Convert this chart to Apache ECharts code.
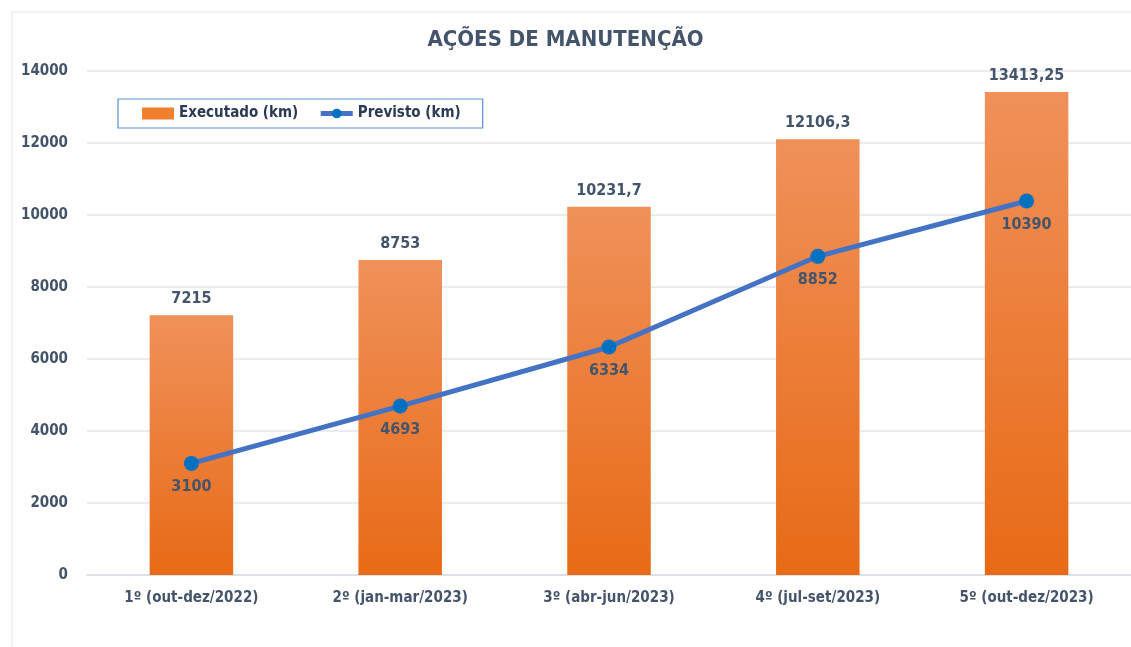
<!DOCTYPE html>
<html><head><meta charset="utf-8">
<script src="https://cdn.jsdelivr.net/npm/echarts@6/dist/echarts.min.js"></script>
<style>html,body{margin:0;padding:0;background:#fff}#c{width:1131px;height:647px}</style>
</head><body><div id="c"></div>
<script>
const categories = ['1º (out-dez/2022)','2º (jan-mar/2023)','3º (abr-jun/2023)','4º (jul-set/2023)','5º (out-dez/2023)'];
const executado = [7215, 8753, 10231.7, 12106.3, 13413.25];
const previsto = [3100, 4693, 6334, 8852, 10390];
const titleText = 'AÇÕES DE MANUTENÇÃO';
const FONT = '"Liberation Sans Narrow","DejaVu Sans Condensed","Open Sans",sans-serif';
const TXT = '#44546a';
const chart = echarts.init(document.getElementById('c'));
const fmt = v => String(v).replace('.', ',');
chart.setOption({
  animation:false,
  title:{text:titleText,left:'center',top:24,textStyle:{fontFamily:FONT,fontSize:22,fontWeight:'bold',color:TXT}},
  graphic:[{type:'rect',shape:{x:12,y:12,width:1140,height:660},style:{fill:'none',stroke:'#e2e2e2',lineWidth:1},silent:true}],
  legend:{orient:'horizontal',left:118,top:99,padding:[7,22,7,24],itemGap:20,borderColor:'#5b8fd6',borderWidth:1.2,
    itemWidth:32,itemHeight:12,
    textStyle:{fontFamily:FONT,fontSize:15,fontWeight:'bold',color:'#2b3a55'},
    data:[{name:'Executado (km)',icon:'rect',itemStyle:{color:'#f07f2e'}},
          {name:'Previsto (km)',lineStyle:{width:5,color:'#4472c4'}}]},
  grid:{left:87,right:0,top:71,bottom:72,containLabel:false},
  xAxis:{type:'category',data:categories,axisTick:{show:false},
    axisLine:{lineStyle:{color:'#d9dde4',width:1.5}},
    axisLabel:{fontFamily:FONT,fontSize:15,fontWeight:'bold',color:TXT,margin:16}},
  yAxis:{type:'value',min:0,max:14000,interval:2000,
    axisLabel:{fontFamily:FONT,fontSize:15,fontWeight:'bold',color:TXT,margin:19,formatter:v=>String(v)},
    splitLine:{lineStyle:{color:'#e4e6ea',width:1.5}},axisLine:{show:false},axisTick:{show:false}},
  series:[
    {name:'Executado (km)',type:'bar',data:executado,barWidth:'40%',
      itemStyle:{color:new echarts.graphic.LinearGradient(0,0,0,1,[{offset:0,color:'#f0915a'},{offset:1,color:'#e86a16'}])},
      label:{show:true,position:'top',distance:8,formatter:p=>fmt(p.value),fontFamily:FONT,fontSize:16,fontWeight:'bold',color:TXT}},
    {name:'Previsto (km)',type:'line',data:previsto,symbol:'circle',symbolSize:15,
      lineStyle:{color:'#4472c4',width:5},itemStyle:{color:'#0070c0'},
      label:{show:true,position:'bottom',distance:8,formatter:p=>fmt(p.value),fontFamily:FONT,fontSize:16,fontWeight:'bold',color:TXT}}
  ]
});
</script></body></html>
